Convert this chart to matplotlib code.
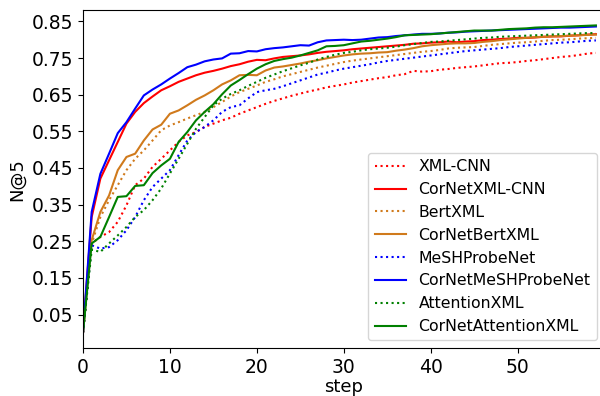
import numpy as np
import matplotlib
matplotlib.use("Agg")
import matplotlib.pyplot as plt

steps = np.arange(60)

xml_cnn = [0.0, 0.244, 0.262, 0.275, 0.303, 0.348, 0.403, 0.421, 0.453, 0.475,
           0.498, 0.521, 0.539, 0.548, 0.562, 0.571, 0.580, 0.587, 0.598, 0.607,
           0.616, 0.625, 0.633, 0.640, 0.647, 0.653, 0.659, 0.664, 0.670, 0.674,
           0.678, 0.683, 0.687, 0.691, 0.695, 0.698, 0.703, 0.706, 0.715, 0.713,
           0.714, 0.718, 0.720, 0.723, 0.725, 0.727, 0.730, 0.733, 0.736, 0.737,
           0.739, 0.742, 0.744, 0.747, 0.750, 0.753, 0.755, 0.758, 0.762, 0.764]
cornet_xml_cnn = [0.0, 0.316, 0.421, 0.471, 0.521, 0.571, 0.603, 0.627, 0.645, 0.662,
                  0.673, 0.685, 0.694, 0.703, 0.710, 0.715, 0.721, 0.728, 0.733, 0.740,
                  0.745, 0.744, 0.749, 0.753, 0.755, 0.757, 0.760, 0.764, 0.767, 0.769,
                  0.771, 0.774, 0.776, 0.778, 0.780, 0.782, 0.784, 0.786, 0.789, 0.790,
                  0.792, 0.793, 0.795, 0.793, 0.795, 0.796, 0.799, 0.800, 0.802, 0.803,
                  0.805, 0.805, 0.806, 0.808, 0.809, 0.809, 0.811, 0.812, 0.814, 0.815]
bertxml = [0.0, 0.244, 0.316, 0.362, 0.403, 0.444, 0.475, 0.498, 0.525, 0.553,
           0.566, 0.575, 0.585, 0.594, 0.603, 0.616, 0.630, 0.645, 0.657, 0.666,
           0.675, 0.685, 0.692, 0.700, 0.706, 0.712, 0.718, 0.724, 0.729, 0.734,
           0.739, 0.743, 0.746, 0.749, 0.752, 0.755, 0.758, 0.761, 0.764, 0.767,
           0.769, 0.772, 0.776, 0.778, 0.779, 0.780, 0.783, 0.786, 0.788, 0.790,
           0.792, 0.793, 0.795, 0.797, 0.799, 0.800, 0.801, 0.803, 0.804, 0.805]
cornet_bertxml = [0.0, 0.253, 0.330, 0.375, 0.444, 0.480, 0.489, 0.525, 0.555, 0.568,
                  0.598, 0.607, 0.621, 0.636, 0.648, 0.662, 0.678, 0.689, 0.703, 0.704,
                  0.703, 0.716, 0.724, 0.727, 0.731, 0.735, 0.740, 0.744, 0.749, 0.753,
                  0.757, 0.760, 0.762, 0.763, 0.765, 0.766, 0.770, 0.773, 0.777, 0.782,
                  0.785, 0.787, 0.789, 0.790, 0.790, 0.791, 0.794, 0.796, 0.799, 0.801,
                  0.803, 0.805, 0.807, 0.808, 0.809, 0.810, 0.811, 0.812, 0.813, 0.814]
meshprobenet = [0.0, 0.239, 0.230, 0.234, 0.253, 0.280, 0.316, 0.362, 0.398, 0.421,
                0.444, 0.485, 0.525, 0.548, 0.562, 0.580, 0.603, 0.616, 0.621, 0.640,
                0.657, 0.662, 0.666, 0.673, 0.681, 0.689, 0.697, 0.705, 0.710, 0.716,
                0.721, 0.725, 0.729, 0.733, 0.738, 0.742, 0.745, 0.748, 0.751, 0.754,
                0.757, 0.760, 0.763, 0.766, 0.769, 0.771, 0.773, 0.775, 0.777, 0.780,
                0.782, 0.784, 0.786, 0.788, 0.790, 0.792, 0.793, 0.795, 0.797, 0.798]
cornet_meshprobenet = [0.0, 0.330, 0.434, 0.489, 0.545, 0.575, 0.612, 0.648, 0.664, 0.678,
                       0.694, 0.709, 0.725, 0.732, 0.741, 0.746, 0.749, 0.762, 0.763, 0.769,
                       0.768, 0.774, 0.777, 0.779, 0.782, 0.785, 0.784, 0.793, 0.798, 0.799,
                       0.800, 0.799, 0.800, 0.803, 0.806, 0.807, 0.810, 0.812, 0.814, 0.816,
                       0.816, 0.817, 0.819, 0.820, 0.822, 0.823, 0.824, 0.825, 0.826, 0.827,
                       0.828, 0.829, 0.830, 0.831, 0.832, 0.833, 0.833, 0.834, 0.835, 0.836]
attentionxml = [0.0, 0.227, 0.221, 0.244, 0.266, 0.289, 0.316, 0.335, 0.362, 0.394,
                0.435, 0.475, 0.516, 0.557, 0.589, 0.621, 0.639, 0.652, 0.662, 0.674,
                0.685, 0.696, 0.705, 0.714, 0.722, 0.730, 0.737, 0.746, 0.753, 0.759,
                0.764, 0.767, 0.771, 0.774, 0.776, 0.778, 0.781, 0.785, 0.788, 0.791,
                0.794, 0.795, 0.797, 0.799, 0.801, 0.803, 0.805, 0.806, 0.808, 0.809,
                0.810, 0.811, 0.812, 0.813, 0.814, 0.815, 0.816, 0.817, 0.818, 0.818]
cornet_attentionxml = [0.0, 0.244, 0.262, 0.316, 0.371, 0.373, 0.401, 0.403, 0.436, 0.457,
                       0.475, 0.521, 0.548, 0.580, 0.603, 0.624, 0.651, 0.675, 0.690, 0.706,
                       0.721, 0.733, 0.742, 0.747, 0.751, 0.757, 0.764, 0.771, 0.782, 0.783,
                       0.785, 0.790, 0.795, 0.797, 0.800, 0.803, 0.807, 0.812, 0.813, 0.814,
                       0.815, 0.817, 0.819, 0.821, 0.823, 0.825, 0.825, 0.825, 0.827, 0.829,
                       0.830, 0.831, 0.833, 0.834, 0.834, 0.835, 0.836, 0.837, 0.838, 0.839]

orange = '#d07a1c'

fig = plt.figure(figsize=(6, 3.96), dpi=100)
# axes run a little past the right edge, like the cropped original
ax = fig.add_axes([0.1383, 0.1205, 0.8694, 0.8542])

ax.plot(steps, xml_cnn, color='r', linestyle=':', label='XML-CNN')
ax.plot(steps, cornet_xml_cnn, color='r', label='CorNetXML-CNN')
ax.plot(steps, bertxml, color=orange, linestyle=':', label='BertXML')
ax.plot(steps, cornet_bertxml, color=orange, label='CorNetBertXML')
ax.plot(steps, meshprobenet, color='b', linestyle=':', label='MeSHProbeNet')
ax.plot(steps, cornet_meshprobenet, color='b', label='CorNetMeSHProbeNet')
ax.plot(steps, attentionxml, color='g', linestyle=':', label='AttentionXML')
ax.plot(steps, cornet_attentionxml, color='g', label='CorNetAttentionXML')

ax.set_xlim(0, 60)
ax.set_ylim(-0.042, 0.881)
ax.set_xticks([0, 10, 20, 30, 40, 50])
ax.set_yticks(np.arange(0.05, 0.9, 0.1))
ax.set_yticklabels(['0.05', '0.15', '0.25', '0.35', '0.45', '0.55', '0.65', '0.75', '0.85'])
ax.tick_params(labelsize=13.5)
ax.set_xlabel('step', fontsize=13, labelpad=1)
ax.set_ylabel('N@5', fontsize=13)
ax.legend(loc='lower right', fontsize=11.3)

fig.savefig('out.png', dpi=100)
